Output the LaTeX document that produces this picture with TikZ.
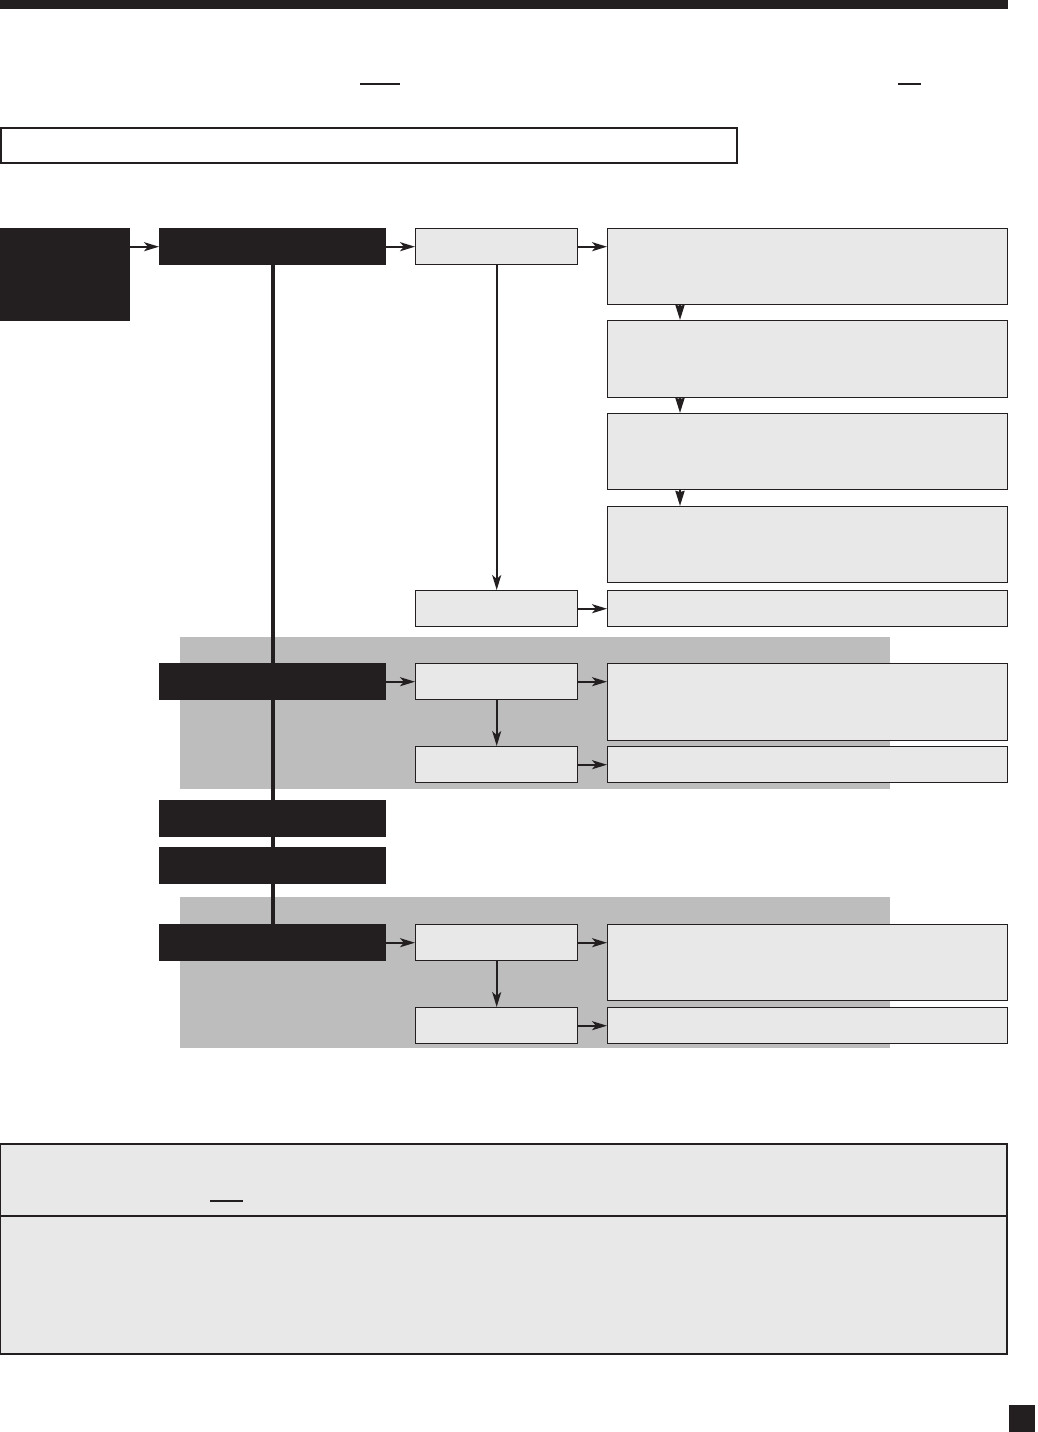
\documentclass[tikz,border=0pt]{standalone}
\usepackage{tikz}
\usetikzlibrary{arrows.meta,positioning}
\definecolor{ink}{RGB}{35,31,32}
\definecolor{pale}{RGB}{232,232,232}
\definecolor{band}{RGB}{189,189,189}

\begin{document}
\begin{tikzpicture}[x=1pt,y=-1pt,
  dbox/.style={fill=ink,inner sep=0pt,anchor=north west,minimum width=227pt,minimum height=37pt},
  gbox/.style={draw=ink,fill=pale,line width=1.4pt,inner sep=0pt,anchor=north west,minimum width=162pt,minimum height=36pt},
  wbox/.style={gbox,minimum width=400pt},
  link/.style={draw=ink,line width=2.2pt,-{Stealth[length=15pt,width=9pt,inset=4pt]}},
  spine/.style={draw=ink,line width=4pt}]
  \useasboundingbox (0,0) rectangle (1037,1432);
  % page furniture
  \fill[ink] (0,0) rectangle (1008,9);
  \draw[ink,line width=1.2pt] (360,84) -- (400,84);
  \draw[ink,line width=1.2pt] (898,84) -- (921,84);
  \draw[ink,line width=1.5pt,fill=white] (0.75,128) rectangle (737,163);
  % shaded groups
  \fill[band] (180,637) rectangle (890,789);
  \fill[band] (180,897) rectangle (890,1048);
  % left column
  \node[dbox,minimum width=130pt,minimum height=93pt] (start) at (0,228){};
  \node[dbox] (sa) at (159,228){};
  \node[dbox] (sc) at (159,663){};
  \node[dbox] (sd) at (159,800){};
  \node[dbox] (se) at (159,847){};
  \node[dbox] (sf) at (159,924){};
  % middle column
  \node[gbox] (b1) at (415,228){};\node[gbox] (b2) at (415,590){};
  \node[gbox] (c1) at (415,663){};\node[gbox] (c2) at (415,746){};
  \node[gbox] (f1) at (415,924){};\node[gbox] (f2) at (415,1007){};
  % right column
  \node[wbox,minimum height=76pt] (r1) at (607,228){};
  \node[wbox,minimum height=77pt] (r2) at (607,320){};
  \node[wbox,minimum height=76pt] (r3) at (607,413){};
  \node[wbox,minimum height=76pt] (r4) at (607,506){};
  \node[wbox] (q2) at (607,590){};
  \node[wbox,minimum height=77pt] (q3) at (607,663){};
  \node[wbox] (q4) at (607,746){};
  \node[wbox,minimum height=76pt] (q5) at (607,924){};
  \node[wbox] (q6) at (607,1007){};
  % connectors
  \draw[spine] (sa.south) -- (sf.north);
  \draw[link] (sa.west -| start.east) -- (sa.west);
  \draw[link] (sa) -- (b1);
  \draw[link] (sc) -- (c1);
  \draw[link] (sf) -- (f1);
  \draw[link] (b1) -- (b2);
  \draw[link] (c1) -- (c2);
  \draw[link] (f1) -- (f2);
  \foreach \a/\b in {b1/r1,b2/q2,c1/q3,c2/q4,f1/q5,f2/q6}
    \draw[link] (\a.east) -- (\a.east -| \b.west);
  \foreach \a/\b in {r1/r2,r2/r3,r3/r4}
    \draw[link,-{Stealth[length=15pt,width=9pt,inset=1pt]}] ([xshift=73pt]\a.south west) -- ([xshift=73pt]\b.north west);
  % notes panel
  \draw[ink,fill=pale,line width=1.4pt] (0.7,1144) rectangle (1007,1354);
  \draw[ink,line width=1.4pt] (0.7,1216) -- (1007,1216);
  \draw[ink,line width=1.2pt] (210,1201) -- (243,1201);
  \fill[ink] (1009,1405) rectangle (1035,1432);
\end{tikzpicture}
\end{document}
